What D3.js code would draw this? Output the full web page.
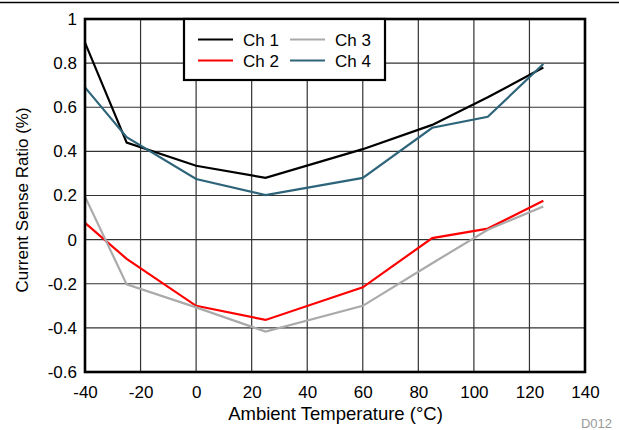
<!DOCTYPE html>
<html><head><meta charset="utf-8">
<script src="https://cdn.jsdelivr.net/npm/d3@7"></script>
<style>body{margin:0;background:#fff}svg{display:block;font-family:"Liberation Sans",Arial,sans-serif}</style>
</head><body>
<script>
const temps = [-40, -25, 0, 25, 60, 85, 105, 125];
const ch1 = [0.893, 0.44, 0.335, 0.28, 0.41, 0.52, 0.645, 0.78];
const ch2 = [0.076, -0.087, -0.30, -0.364, -0.216, 0.007, 0.05, 0.176];
const ch3 = [0.195, -0.203, -0.307, -0.417, -0.30, -0.107, 0.045, 0.15];
const ch4 = [0.69, 0.464, 0.275, 0.202, 0.28, 0.507, 0.557, 0.796];
const seriesNames = ["Ch 1", "Ch 2", "Ch 3", "Ch 4"];
const seriesColors = ["#000000", "#ff0000", "#aaaaaa", "#2e6479"];
const xTicks = [-40, -20, 0, 20, 40, 60, 80, 100, 120, 140];
const xTickLabels = ["-40", "-20", "0", "20", "40", "60", "80", "100", "120", "140"];
const yTicks = [-0.6, -0.4, -0.2, 0, 0.2, 0.4, 0.6, 0.8, 1];
const yTickLabels = ["-0.6", "-0.4", "-0.2", "0", "0.2", "0.4", "0.6", "0.8", "1"];

const W = 619, H = 430;
const m = {l: 85, r: 585, t: 19, b: 372};
const svg = d3.select("body").append("svg").attr("width", W).attr("height", H);
const x = d3.scaleLinear().domain([-40, 140]).range([m.l, m.r]);
const y = d3.scaleLinear().domain([-0.6, 1]).range([m.b, m.t]);

// top rule
svg.append("line").attr("x1", 0).attr("x2", W).attr("y1", 2.5).attr("y2", 2.5)
  .attr("stroke", "#000").attr("stroke-width", 1.5);

// grid
const g = svg.append("g");
g.selectAll(".vx").data(xTicks).join("line")
  .attr("x1", d => x(d)).attr("x2", d => x(d)).attr("y1", m.t).attr("y2", m.b)
  .attr("stroke", "#333").attr("stroke-width", 1.2);
g.selectAll(".hy").data(yTicks).join("line")
  .attr("y1", d => y(d)).attr("y2", d => y(d)).attr("x1", m.l).attr("x2", m.r)
  .attr("stroke", "#333").attr("stroke-width", 1.2);

// axes labels via d3 axes
const xAxis = svg.append("g").attr("transform", `translate(0,${m.b})`)
  .call(d3.axisBottom(x).tickValues(xTicks).tickSize(0).tickPadding(14).tickFormat((d, i) => xTickLabels[i]));
const yAxis = svg.append("g").attr("transform", `translate(${m.l},0)`)
  .call(d3.axisLeft(y).tickValues(yTicks).tickSize(0).tickPadding(8).tickFormat((d, i) => yTickLabels[i]));
[xAxis, yAxis].forEach(a => {
  a.select(".domain").remove();
  a.selectAll("text").attr("font-size", 17).attr("fill", "#000")
    .attr("font-family", "'Liberation Sans',Arial,sans-serif");
});

// lines
const data = [ch1, ch2, ch3, ch4];
const line = d3.line().x((d, i) => x(temps[i])).y(d => y(d));
svg.selectAll(".series").data(data).join("path")
  .attr("d", d => line(d)).attr("fill", "none")
  .attr("stroke", (d, i) => seriesColors[i]).attr("stroke-width", 2.2)
  .attr("stroke-linejoin", "miter");

// frame
svg.append("rect").attr("x", m.l).attr("y", m.t).attr("width", m.r - m.l).attr("height", m.b - m.t)
  .attr("fill", "none").attr("stroke", "#000").attr("stroke-width", 2.6);

// legend
const lg = svg.append("g");
lg.append("rect").attr("x", 184).attr("y", m.t).attr("width", 201).attr("height", 61)
  .attr("fill", "#fff").attr("stroke", "#000").attr("stroke-width", 2.2);
const legPos = [[198, 39.5], [198, 60.5], [290, 39.5], [290, 60.5]];
seriesNames.forEach((n, i) => {
  const [lx, ly] = legPos[i];
  lg.append("line").attr("x1", lx).attr("x2", lx + 35).attr("y1", ly).attr("y2", ly)
    .attr("stroke", seriesColors[i]).attr("stroke-width", 2.2);
  lg.append("text").attr("x", lx + 45).attr("y", ly + 6).attr("font-size", 17).text(n);
});

// titles
svg.append("text").attr("x", 335.5).attr("y", 420).attr("text-anchor", "middle")
  .attr("font-size", 18.5).text("Ambient Temperature (°C)");
svg.append("text").attr("transform", `translate(28,200) rotate(-90)`)
  .attr("text-anchor", "middle").attr("font-size", 17).text("Current Sense Ratio (%)");
svg.append("text").attr("x", 612).attr("y", 428).attr("text-anchor", "end")
  .attr("font-size", 13).attr("fill", "#999").text("D012");
</script>
</body></html>
